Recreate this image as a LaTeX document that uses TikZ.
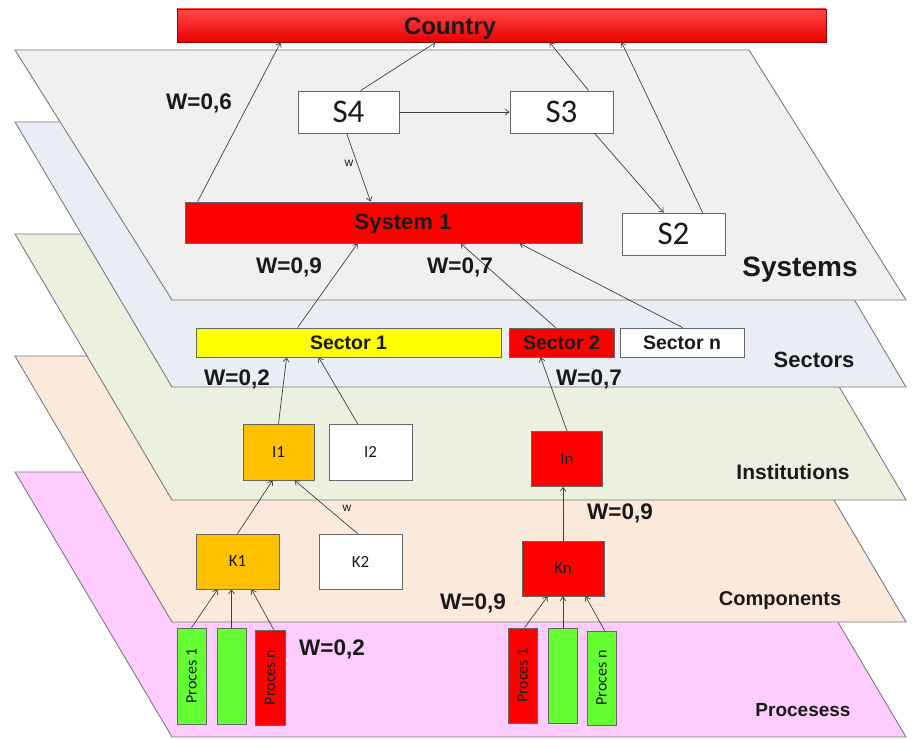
\documentclass[tikz,border=0pt]{standalone}
\usepackage{fontspec}
\setmainfont{Liberation Sans}
\newfontfamily\calfont{Carlito}
\usetikzlibrary{arrows.meta}

\definecolor{sysfill}{HTML}{F0F0F0}
\definecolor{secfill}{HTML}{E9EDF4}
\definecolor{insfill}{HTML}{EBF1DE}
\definecolor{comfill}{HTML}{FBEADC}
\definecolor{profill}{HTML}{FFCCFF}
\definecolor{cred}{HTML}{FF0000}
\definecolor{cyellow}{HTML}{FFFF00}
\definecolor{corange}{HTML}{FFC000}
\definecolor{cgreen}{HTML}{66FF33}
\definecolor{edge}{HTML}{7A7A7A}
\definecolor{ink}{HTML}{1A1A1A}

\tikzset{
  layer/.style={draw=edge, line width=0.9pt},
  box/.style={draw=black!60, line width=0.8pt, inner sep=0pt, text=ink},
  conn/.style={draw=black!75, line width=0.7pt, -{Straight Barb[length=4pt,width=6pt]}},
  wlab/.style={anchor=base, text=ink, font=\bfseries\fontsize{22.5}{24}\selectfont},
  smallw/.style={anchor=center, text=ink, font=\fontsize{12}{14}\selectfont},
  layerlab/.style={anchor=base, text=ink},
  bigs/.style={font=\calfont\fontsize{33}{36}\selectfont},
  secfont/.style={font=\bfseries\fontsize{19.5}{22}\selectfont},
  unit/.style={font=\calfont\fontsize{17}{19}\selectfont},
  procfont/.style={font=\calfont\fontsize{16}{18}\selectfont},
}

\begin{document}
\begin{tikzpicture}[x=1pt,y=-1pt]
\useasboundingbox (0,0) rectangle (917,738);

% ---- stacked layers, lowest first ----
\filldraw[layer, fill=profill] (15,472) -- (749,472) -- (906,737) -- (172,737) -- cycle;
\filldraw[layer, fill=comfill] (15,356) -- (749,356) -- (906,622) -- (172,622) -- cycle;
\filldraw[layer, fill=insfill] (15,234) -- (749,234) -- (906,500) -- (172,500) -- cycle;
\filldraw[layer, fill=secfill] (15,122) -- (749,122) -- (906,387) -- (172,387) -- cycle;
\filldraw[layer, fill=sysfill] (15,50) -- (749,50) -- (906,300) -- (172,300) -- cycle;

% ---- layer names ----
\node[layerlab, font=\bfseries\fontsize{28}{30}\selectfont] (lsys) at (800,276) {Systems};
\node[layerlab, font=\bfseries\fontsize{22}{24}\selectfont] (lsec) at (814,367) {Sectors};
\node[layerlab, font=\bfseries\fontsize{21}{23}\selectfont] (lins) at (793,479) {Institutions};
\node[layerlab, font=\bfseries\fontsize{20}{22}\selectfont] (lcom) at (780,605) {Components};
\node[layerlab, font=\bfseries\fontsize{19}{21}\selectfont] (lpro) at (803,716) {Procesess};

% ---- top node ----
\node[box, draw=red!55!black, top color={rgb,255:red,255;green,72;blue,72}, bottom color=red!92!black,
      minimum width=649, minimum height=33] (country) at (501.5,25.5) {};
\node[anchor=base, text=ink, font=\bfseries\fontsize{24}{26}\selectfont] (countrytxt) at (450,35) {Country};

% ---- systems ----
\node[box, fill=white, bigs, minimum width=101, minimum height=42] (s4) at (348.5,112) {S4};
\node[box, fill=white, bigs, minimum width=103, minimum height=42] (s3) at (561.5,112) {S3};
\node[box, fill=white, bigs, minimum width=103, minimum height=42] (s2) at (673.5,234) {S2};
\node[box, fill=cred, minimum width=397, minimum height=41] (sys1) at (383.5,222.5) {};
\node[anchor=base, text=ink, font=\bfseries\fontsize{22}{24}\selectfont] (sys1txt) at (403,229) {System 1};

% ---- sectors ----
\node[box, fill=cyellow, secfont, minimum width=305, minimum height=29] (sec1) at (348.5,342.5) {Sector 1};
\node[box, fill=cred, secfont, minimum width=105, minimum height=29] (sec2) at (561.5,342.5) {Sector 2};
\node[box, fill=white, secfont, minimum width=124, minimum height=29] (secn) at (682,342.5) {Sector n};

% ---- institutions ----
\node[box, fill=corange, unit, minimum width=71, minimum height=56] (i1) at (278.5,452) {I1};
\node[box, fill=white, unit, minimum width=83, minimum height=56] (i2) at (370.5,452) {I2};
\node[box, fill=cred, unit, minimum width=71, minimum height=55] (in) at (567,459) {In};

% ---- components ----
\node[box, fill=corange, unit, minimum width=83, minimum height=55] (k1) at (237.5,561.5) {K1};
\node[box, fill=white, unit, minimum width=83, minimum height=55] (k2) at (360.5,561.5) {K2};
\node[box, fill=cred, unit, minimum width=82, minimum height=55] (kn) at (563,568.5) {Kn};

% ---- processes ----
\node[box, fill=cgreen, procfont, minimum width=29, minimum height=96] (p1) at (191.5,676) {\rotatebox{90}{Proces 1}};
\node[box, fill=cgreen, minimum width=29, minimum height=96] (p2) at (231.5,676) {};
\node[box, fill=cred, procfont, minimum width=30, minimum height=95] (p3) at (270,677.5) {\rotatebox{90}{Proces n}};
\node[box, fill=cred, procfont, minimum width=29, minimum height=95] (q1) at (522.5,675.5) {\rotatebox{90}{Proces 1}};
\node[box, fill=cgreen, minimum width=29, minimum height=95] (q2) at (563,675.5) {};
\node[box, fill=cgreen, procfont, minimum width=29, minimum height=94] (q3) at (601.5,678) {\rotatebox{90}{Proces n}};

% ---- connectors: systems to country ----
\draw[conn] ([xshift=13pt]sys1.north west) -- ([xshift=104pt]country.south west);
\draw[conn] ([xshift=63pt]s4.north west) -- ([xshift=259pt]country.south west);
\draw[conn] ([xshift=79pt]s3.north west) -- ([xshift=373pt]country.south west);
\draw[conn] ([xshift=81pt]s2.north west) -- ([xshift=445pt]country.south west);
\draw[conn] (s4.east) -- (s3.west);
\draw[conn] ([xshift=49pt]s4.south west) -- ([xshift=186pt]sys1.north west);
\draw[conn] ([xshift=85pt]s3.south west) -- ([xshift=42pt]s2.north west);

% ---- sectors to system ----
\draw[conn] ([xshift=102pt]sec1.north west) -- ([xshift=173pt]sys1.south west);
\draw[conn] ([xshift=47pt]sec2.north west) -- ([xshift=276pt]sys1.south west);
\draw[conn] ([xshift=63pt]secn.north west) -- ([xshift=335pt]sys1.south west);

% ---- institutions to sectors ----
\draw[conn] (i1.north) -- ([xshift=91pt]sec1.south west);
\draw[conn] ([xshift=29pt]i2.north west) -- ([xshift=123pt]sec1.south west);
\draw[conn] (in.north) -- ([xshift=32pt]sec2.south west);

% ---- components to institutions ----
\draw[conn] (k1.north) -- ([xshift=30pt]i1.south west);
\draw[conn] ([xshift=39pt]k2.north west) -- ([xshift=52pt]i1.south west);
\draw[conn] (kn.north) -- (kn.north |- in.south);

% ---- processes to components ----
\draw[conn] (p1.north) -- ([xshift=22pt]k1.south west);
\draw[conn] (p2.north) -- (p2.north |- k1.south);
\draw[conn] ([xshift=19pt]p3.north west) -- ([xshift=56pt]k1.south west);
\draw[conn] ([xshift=17pt]q1.north west) -- ([xshift=26pt]kn.south west);
\draw[conn] (q2.north) -- (q2.north |- kn.south);
\draw[conn] ([xshift=18pt]q3.north west) -- ([xshift=64pt]kn.south west);

% ---- weights ----
\node[wlab] (w06) at (199,110) {W=0,6};
\node[smallw] (wsys) at (349,163) {w};
\node[wlab] (w09a) at (289,273) {W=0,9};
\node[wlab] (w07a) at (460,273) {W=0,7};
\node[wlab] (w02a) at (237,385) {W=0,2};
\node[wlab] (w07b) at (589,385) {W=0,7};
\node[smallw] (wins) at (347,508) {w};
\node[wlab] (w09b) at (620,519) {W=0,9};
\node[wlab] (w09c) at (473,609) {W=0,9};
\node[wlab] (w02b) at (332,655) {W=0,2};
\end{tikzpicture}
\end{document}
